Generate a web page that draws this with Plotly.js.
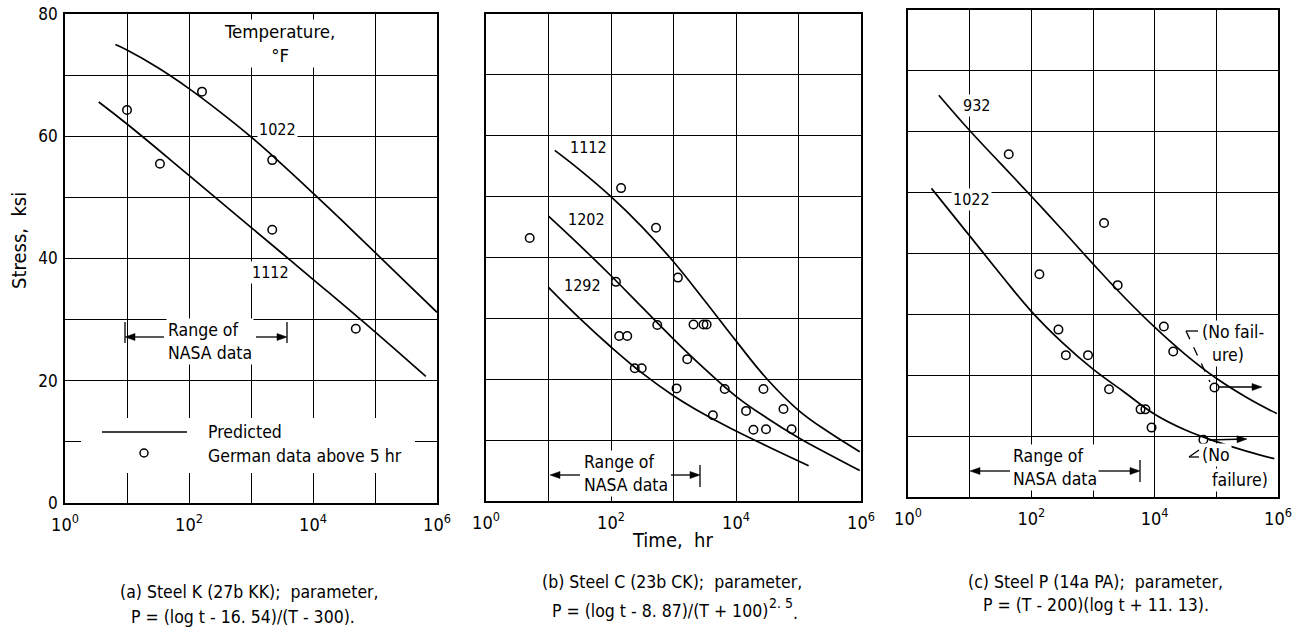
<!DOCTYPE html>
<html><head><meta charset="utf-8">
<script src="https://cdn.plot.ly/plotly-3.0.1.min.js"></script>
<style>html,body{margin:0;padding:0;background:#fff}#chart{width:1302px;height:628px}</style>
</head><body><div id="chart"></div>
<script>
// ---------- axis ticks ----------
const decadeTicks = [1, 100, 1e4, 1e6];
const decadeLabels = ['10<sup>0</sup>', '10<sup>2</sup>', '10<sup>4</sup>', '10<sup>6</sup>'];
const oddDecades = [10, 1e3, 1e5];
const stressTicks = [0, 20, 40, 60, 80];
const stressLabels = ['0', '20', '40', '60', '80'];
const stressMinor = [10, 30, 50, 70];

// ---------- panel (a) Steel K ----------
const aGermanTime = [10, 34, 162, 2200, 2200, 49000];
const aGermanStress = [64.3, 55.5, 67.3, 56.1, 44.7, 28.5];
const a1022Time = [6.5, 10, 31.6, 100, 316, 1000, 3160, 1e4, 31600, 1e5, 316000, 1e6];
const a1022Stress = [75.0, 74.1, 71.2, 67.8, 64.0, 59.9, 55.4, 50.7, 45.9, 41.0, 36.1, 31.2];
const a1112Time = [3.5, 10, 100, 1000, 1e4, 1e5, 6.6e5];
const a1112Stress = [65.6, 62.0, 53.6, 45.1, 36.6, 28.0, 20.7];

// ---------- panel (b) Steel C ----------
const bGermanTime = [145, 525, 5, 1175, 120, 550, 135, 182, 2090, 3020, 3390, 1660, 240, 310, 1120, 6600, 27500, 4270, 14500, 57500, 19000, 30200, 77600];
const bGermanStress = [51.4, 44.9, 43.2, 36.7, 36.0, 28.9, 27.1, 27.1, 29.0, 29.0, 29.0, 23.3, 21.8, 21.8, 18.5, 18.4, 18.4, 14.1, 14.8, 15.1, 11.7, 11.8, 11.8];
const b1112Time = [12.6, 31.6, 100, 316, 1000, 3160, 1e4, 31600, 1e5, 316000, 955000];
const b1112Stress = [57.6, 54.4, 50.0, 45.0, 39.3, 32.9, 26.3, 20.0, 14.9, 11.2, 8.1];
const b1202Time = [10, 31.6, 100, 316, 1000, 3160, 1e4, 31600, 1e5, 316000, 955000];
const b1202Stress = [46.8, 42.0, 37.0, 31.8, 26.6, 21.7, 17.2, 13.6, 10.4, 7.6, 5.0];
const b1292Time = [10, 31.6, 100, 316, 1000, 3160, 1e4, 31600, 145000];
const b1292Stress = [35.1, 30.0, 25.3, 21.0, 17.3, 14.2, 11.5, 9.0, 5.8];

// ---------- panel (c) Steel P ----------
const cGermanTime = [43, 1510, 135, 2510, 275, 363, 830, 1820, 5900, 7080, 8900, 14100, 20000, 93300, 61700];
const cGermanStress = [56.3, 45.0, 36.6, 34.8, 27.5, 23.3, 23.3, 17.7, 14.4, 14.4, 11.4, 28.0, 23.9, 18.0, 9.4];
const c932Time = [3.16, 10, 31.6, 100, 316, 1000, 3160, 1e4, 31600, 1e5, 316000, 955000];
const c932Stress = [66.0, 60.2, 54.8, 49.4, 43.9, 38.3, 32.9, 27.9, 23.4, 19.5, 16.3, 13.7];
const c1022Time = [2.4, 10, 31.6, 100, 316, 1000, 3160, 1e4, 31600, 1e5, 316000, 871000];
const c1022Stress = [50.7, 42.9, 36.6, 30.5, 25.4, 21.0, 17.3, 13.6, 11.0, 9.1, 7.5, 6.3];

// ---------- texts ----------
const captionA = ['(a) Steel K (27b KK);  parameter,', 'P = (log t - 16. 54)/(T - 300).'];
const captionB = ['(b) Steel C (23b CK);  parameter,', 'P = (log t - 8. 87)/(T + 100)', '2. 5', '.'];
const captionC = ['(c) Steel P (14a PA);  parameter,', 'P = (T - 200)(log t + 11. 13).'];

// ---------- build ----------
const W = 1302, H = 628;
const FONT = 'DejaVu Sans Condensed, Liberation Sans Narrow, sans-serif';
const px = x => x / W, py = y => 1 - y / H;

function curve(t, s, xa, ya) {
  return {x: t, y: s, xaxis: xa, yaxis: ya, type: 'scatter', mode: 'lines',
    line: {color: 'black', width: 1.7, shape: 'spline', smoothing: 1.2}, hoverinfo: 'skip', showlegend: false};
}
function pts(t, s, xa, ya) {
  return {x: t, y: s, xaxis: xa, yaxis: ya, type: 'scatter', mode: 'markers',
    marker: {symbol: 'circle-open', size: 8.5, color: 'black', line: {width: 1.5, color: 'black'}},
    hoverinfo: 'skip', showlegend: false};
}
const data = [
  curve(a1022Time, a1022Stress, 'x', 'y'), curve(a1112Time, a1112Stress, 'x', 'y'), pts(aGermanTime, aGermanStress, 'x', 'y'),
  curve(b1112Time, b1112Stress, 'x2', 'y2'), curve(b1202Time, b1202Stress, 'x2', 'y2'), curve(b1292Time, b1292Stress, 'x2', 'y2'), pts(bGermanTime, bGermanStress, 'x2', 'y2'),
  curve(c932Time, c932Stress, 'x3', 'y3'), curve(c1022Time, c1022Stress, 'x3', 'y3'), pts(cGermanTime, cGermanStress, 'x3', 'y3')
];

function xax(d) {
  return {type: 'log', range: [0, 6], domain: d, tickvals: decadeTicks, ticktext: decadeLabels,
    showgrid: true, gridcolor: 'black', gridwidth: 1, showline: true, linecolor: 'black', linewidth: 2,
    minor: {tickvals: oddDecades, showgrid: true, gridcolor: 'black', gridwidth: 1, ticks: ''},
    mirror: true, ticks: '', zeroline: false, ticklabelstandoff: 4,
    tickfont: {family: FONT, size: 18, color: 'black'}, fixedrange: true};
}
function yax(d, anchor, labels) {
  return {range: [0, 80], domain: d, anchor: anchor, tickvals: stressTicks, ticktext: stressLabels,
    minor: {tickvals: stressMinor, showgrid: true, gridcolor: 'black', gridwidth: 1, ticks: ''},
    showticklabels: labels, showgrid: true, gridcolor: 'black', gridwidth: 1, showline: true,
    linecolor: 'black', linewidth: 1.8, mirror: true, ticks: '', zeroline: false, ticklabelstandoff: 2,
    tickfont: {family: FONT, size: 17, color: 'black'}, fixedrange: true};
}

const ann = [];
const shapes = [];
const TS = 17.5;
function txt(t, x, y, opt) {
  ann.push(Object.assign({text: t, x: px(x), y: py(y), xref: 'paper', yref: 'paper', showarrow: false,
    xanchor: 'center', yanchor: 'middle', font: {family: FONT, size: TS, color: 'black'}}, opt || {}));
}
function seg(x0, y0, x1, y1, dash) {
  shapes.push({type: 'line', xref: 'paper', yref: 'paper', x0: px(x0), y0: py(y0), x1: px(x1), y1: py(y1),
    line: {color: 'black', width: 1.3, dash: dash || 'solid'}, layer: 'above'});
}
// arrow with filled head at (tx,ty), tail at (fx,fy)
function arrow(tx, ty, fx, fy) {
  const dx = tx - fx, dy = ty - fy, L = Math.hypot(dx, dy), ux = dx / L, uy = dy / L;
  const hl = 10, hw = 3.5;
  const bx = tx - ux * hl, by = ty - uy * hl;
  seg(fx, fy, bx, by);
  const p1 = [bx - uy * hw, by + ux * hw], p2 = [bx + uy * hw, by - ux * hw];
  shapes.push({type: 'path', xref: 'paper', yref: 'paper', layer: 'above',
    path: `M${px(tx)},${py(ty)} L${px(p1[0])},${py(p1[1])} L${px(p2[0])},${py(p2[1])} Z`,
    fillcolor: 'black', line: {color: 'black', width: 0.5}});
}
const WB = {bgcolor: 'white', borderpad: 1};
const NUM = {font: {family: FONT, size: 16, color: 'black'}};

// legend box of panel a (white background over the grid)
shapes.push({type: 'rect', xref: 'paper', yref: 'paper', x0: px(81), y0: py(418), x1: px(415), y1: py(473),
  fillcolor: 'white', line: {width: 0}, layer: 'above'});
seg(102, 432, 187, 432);
shapes.push({type: 'circle', xref: 'paper', yref: 'paper', x0: px(140), y0: py(449), x1: px(148), y1: py(457),
  line: {color: 'black', width: 1.5}, layer: 'above'});

// panel a
txt('Temperature,<br>°F', 279, 43, Object.assign({font: {family: FONT, size: 18.5, color: 'black'}}, WB));
txt('1022', 277, 129, Object.assign({}, NUM, WB));
txt('1112', 270, 272, Object.assign({}, NUM, WB));
txt('Range of<br>NASA data', 166, 341, Object.assign({xanchor: 'left', align: 'left'}, WB));
arrow(125, 337, 164, 337); arrow(287, 337, 256, 337);
seg(125, 322, 125, 343); seg(287, 322, 287, 343);
txt('Predicted', 206, 432, {xanchor: 'left'});
txt('German data above 5 hr', 206, 456, {xanchor: 'left'});
// panel b
txt('1112', 588, 148, Object.assign({}, NUM, WB));
txt('1202', 586, 219, Object.assign({}, NUM, WB));
txt('1292', 582, 285, Object.assign({}, NUM, WB));
txt('Range of<br>NASA data', 582, 473, Object.assign({xanchor: 'left', align: 'left'}, WB));
arrow(550, 475, 580, 475); arrow(700, 475, 671, 475);
seg(700, 465, 700, 487);
// panel c
txt('932', 976, 106, Object.assign({}, NUM, WB));
txt('1022', 971, 199, Object.assign({}, NUM, WB));
txt('Range of<br>NASA data', 1011, 467, Object.assign({xanchor: 'left', align: 'left'}, WB));
arrow(970, 471, 1010, 471); arrow(1140, 471, 1098, 471);
seg(1140, 460, 1140, 482);
txt('(No fail-', 1200, 332, Object.assign({xanchor: 'left'}, WB));
txt('ure)', 1210, 355, Object.assign({xanchor: 'left'}, WB));
txt('(No', 1200, 455, Object.assign({xanchor: 'left'}, WB));
txt('failure)', 1210, 480, Object.assign({xanchor: 'left'}, WB));
arrow(1262, 387, 1219, 387); arrow(1247, 439, 1209, 440);
seg(1186, 331, 1198, 331); seg(1186, 331, 1210, 382, 'dash');
seg(1199, 450, 1189, 457); seg(1189, 457, 1199, 457);

// axis titles & captions
txt('Time,  hr', 673, 540, {font: {family: FONT, size: 20, color: 'black'}});
txt('Stress,  ksi', 19, 241, {textangle: -90, font: {family: FONT, size: 20, color: 'black'}});
txt(captionA[0], 249, 592); txt(captionA[1], 243, 617);
txt(captionB[0], 672, 582, {borderpad: 0});
txt(captionB[1], 551, 611, {xanchor: 'left', borderpad: 0});
txt(captionB[2], 768, 603, {xanchor: 'left', borderpad: 0, font: {family: FONT, size: 14, color: 'black'}});
txt(captionB[3], 792, 613, {xanchor: 'left', borderpad: 0});
txt(captionC[0], 1095, 582); txt(captionC[1], 1096, 605);

const layout = {
  width: W, height: H, margin: {l: 0, r: 0, t: 0, b: 0},
  paper_bgcolor: 'white', plot_bgcolor: 'white', showlegend: false,
  font: {family: FONT, color: 'black'},
  xaxis: Object.assign(xax([px(65), px(437)]), {anchor: 'y'}),
  yaxis: yax([py(503), py(14)], 'x', true),
  xaxis2: Object.assign(xax([px(486), px(861)]), {anchor: 'y2'}),
  yaxis2: yax([py(501), py(14)], 'x2', false),
  xaxis3: Object.assign(xax([px(908), px(1278)]), {anchor: 'y3'}),
  yaxis3: yax([py(497), py(10)], 'x3', false),
  annotations: ann, shapes: shapes
};
Plotly.newPlot('chart', data, layout, {staticPlot: true, displayModeBar: false});
</script></body></html>
